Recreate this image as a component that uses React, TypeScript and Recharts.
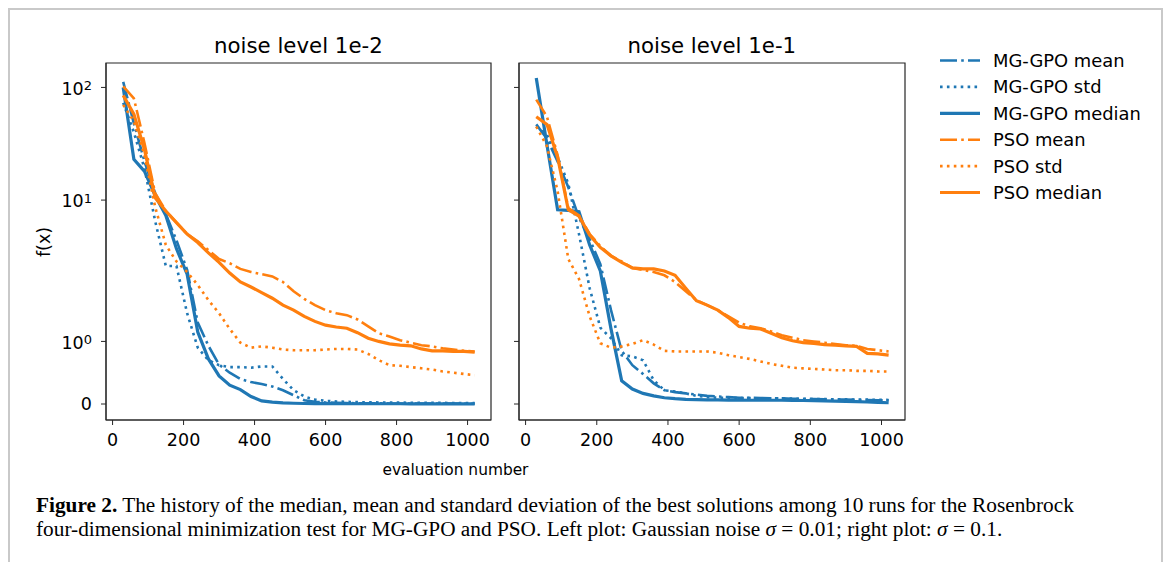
import React from "react"
import { LineChart, Line, XAxis, YAxis, ReferenceArea } from "recharts"

const BLUE = "#1f77b4"
const ORANGE = "#ff7f0e"
const FONT = "'DejaVu Sans', sans-serif"
const AXIS = "#262626"

// evaluation numbers (shared by every series)
const evals = [
  30, 60, 90, 120, 150, 180, 210, 240, 270, 300, 330, 360, 390, 420, 450, 480, 510,
  540, 570, 600, 630, 660, 690, 720, 750, 780, 810, 840, 870, 900, 930, 960, 990, 1020,
]

// noise level 1e-2
const mgMeanA = [112, 48, 22, 11.5, 7.5, 4.4, 2.4, 1.3, 0.93, 0.63, 0.5, 0.4, 0.35, 0.32, 0.28, 0.22, 0.14, 0.06, 0.035, 0.025, 0.02, 0.015, 0.012, 0.01, 0.01, 0.009, 0.008, 0.008, 0.007, 0.007, 0.006, 0.006, 0.005, 0.005]
const mgStdA = [73, 40, 19, 6.5, 2.6, 2.6, 1.45, 0.9, 0.7, 0.62, 0.59, 0.59, 0.58, 0.6, 0.6, 0.4, 0.22, 0.12, 0.07, 0.05, 0.04, 0.035, 0.03, 0.028, 0.025, 0.024, 0.022, 0.02, 0.02, 0.018, 0.018, 0.016, 0.015, 0.015]
const mgMedA = [100, 23, 18, 11, 7.3, 3.7, 2.2, 1.15, 0.72, 0.45, 0.3, 0.23, 0.12, 0.05, 0.03, 0.018, 0.012, 0.008, 0.006, 0.005, 0.005, 0.005, 0.004, 0.004, 0.004, 0.004, 0.004, 0.003, 0.003, 0.003, 0.003, 0.003, 0.003, 0.003]
const psoMeanA = [102, 80, 32, 11.5, 8, 6.3, 5.0, 4.3, 3.6, 3.0, 2.75, 2.45, 2.3, 2.2, 2.1, 1.95, 1.8, 1.68, 1.58, 1.5, 1.45, 1.42, 1.35, 1.24, 1.13, 1.08, 1.02, 0.98, 0.94, 0.92, 0.89, 0.87, 0.85, 0.84]
const psoStdA = [70, 50, 25, 8.7, 4, 2.85, 2.3, 1.9, 1.66, 1.45, 1.2, 0.98, 0.9, 0.92, 0.9, 0.87, 0.86, 0.86, 0.86, 0.87, 0.88, 0.88, 0.87, 0.8, 0.7, 0.62, 0.61, 0.59, 0.57, 0.55, 0.52, 0.5, 0.48, 0.46]
const psoMedA = [85, 58, 28, 10.5, 8, 6.3, 5.0, 4.2, 3.4, 2.8, 2.25, 1.95, 1.87, 1.78, 1.69, 1.58, 1.5, 1.4, 1.32, 1.26, 1.23, 1.21, 1.14, 1.05, 1.0, 0.96, 0.94, 0.93, 0.88, 0.85, 0.85, 0.84, 0.84, 0.83]

// noise level 1e-1
const mgMeanB = [47, 35, 22, 13, 7, 4.5, 2.7, 1.5, 0.85, 0.62, 0.48, 0.33, 0.22, 0.19, 0.17, 0.15, 0.13, 0.12, 0.11, 0.1, 0.1, 0.095, 0.09, 0.09, 0.085, 0.08, 0.08, 0.075, 0.07, 0.07, 0.065, 0.065, 0.06, 0.06]
const mgStdB = [45, 38, 24, 14, 5.0, 1.85, 1.22, 1.05, 0.78, 0.76, 0.7, 0.38, 0.22, 0.2, 0.17, 0.13, 0.11, 0.1, 0.1, 0.095, 0.095, 0.09, 0.09, 0.09, 0.085, 0.085, 0.08, 0.08, 0.075, 0.075, 0.07, 0.07, 0.068, 0.065]
const mgMedB = [121, 31, 8.2, 8.1, 7.9, 4.0, 2.35, 1.2, 0.37, 0.24, 0.17, 0.13, 0.1, 0.085, 0.075, 0.07, 0.065, 0.065, 0.062, 0.062, 0.06, 0.06, 0.06, 0.06, 0.058, 0.056, 0.054, 0.05, 0.046, 0.042, 0.038, 0.032, 0.026, 0.02]
const psoMeanB = [78, 55, 25, 8.5, 7.3, 5.0, 3.9, 3.2, 2.85, 2.5, 2.4, 2.3, 2.15, 1.95, 1.8, 1.66, 1.58, 1.5, 1.4, 1.3, 1.24, 1.21, 1.16, 1.1, 1.06, 1.02, 1.0, 0.98, 0.96, 0.94, 0.93, 0.88, 0.86, 0.84]
const psoStdB = [45, 30, 12, 3.0, 2.0, 1.4, 0.97, 0.9, 0.92, 0.96, 1.02, 0.95, 0.85, 0.84, 0.84, 0.84, 0.84, 0.82, 0.78, 0.75, 0.72, 0.68, 0.64, 0.61, 0.58, 0.57, 0.56, 0.55, 0.54, 0.54, 0.53, 0.53, 0.52, 0.52]
const psoMedB = [55, 47, 24, 8.2, 7.2, 4.9, 3.8, 3.2, 2.8, 2.5, 2.45, 2.45, 2.35, 2.15, 1.85, 1.65, 1.58, 1.5, 1.38, 1.24, 1.21, 1.2, 1.13, 1.06, 1.01, 0.98, 0.97, 0.95, 0.94, 0.93, 0.92, 0.81, 0.8, 0.78]

const titles = ["noise level 1e-2", "noise level 1e-1"]
const legendLabels = ["MG-GPO mean", "MG-GPO std", "MG-GPO median", "PSO mean", "PSO std", "PSO median"]
const xTicks = [0, 200, 400, 600, 800, 1000]
const yTickValues = [0, 1, 10, 100]
const yTickBases = ["0", "10", "10", "10"]
const yTickExps = ["", "0", "1", "2"]

// matplotlib symlog, linthresh = 2, linscale = 1
const LINTHRESH = 2
const LINSCALE = 1 / (1 - 1 / 10)
const symlog = (v: number) => {
  const a = Math.abs(v)
  if (a <= LINTHRESH) return v * LINSCALE
  return Math.sign(v) * LINTHRESH * (LINSCALE + Math.log10(a / LINTHRESH))
}

const X_DOMAIN: [number, number] = [-18.5, 1066]
const Y_DOMAIN: [number, number] = [-0.284, 6.054]
const Y_TICKS = yTickValues.map(symlog)

const DASHDOT = "17 4.2 2.6 4.2"
const DOTTED = "2.6 4.3"

const series = [
  { key: "mgMean", color: BLUE, dash: DASHDOT, width: 2.6 },
  { key: "mgStd", color: BLUE, dash: DOTTED, width: 2.6 },
  { key: "mgMed", color: BLUE, dash: undefined, width: 3.2 },
  { key: "psoMean", color: ORANGE, dash: DASHDOT, width: 2.6 },
  { key: "psoStd", color: ORANGE, dash: DOTTED, width: 2.6 },
  { key: "psoMed", color: ORANGE, dash: undefined, width: 3.2 },
]

const buildRows = (cols: number[][]) =>
  evals.map((e, i) => {
    const row: Record<string, number> = { e }
    series.forEach((s, k) => {
      row[s.key] = symlog(cols[k][i])
    })
    return row
  })

const rowsA = buildRows([mgMeanA, mgStdA, mgMedA, psoMeanA, psoStdA, psoMedA])
const rowsB = buildRows([mgMeanB, mgStdB, mgMedB, psoMeanB, psoStdB, psoMedB])

function YTick(props: any) {
  const { x, y, payload } = props
  let idx = 0
  Y_TICKS.forEach((t, i) => {
    if (Math.abs(t - payload.value) < Math.abs(Y_TICKS[idx] - payload.value)) idx = i
  })
  const exp = yTickExps[idx]
  return (
    <text x={x} y={y + (exp ? 7.2 : 6.3)} textAnchor="end" fill="#000" fontSize={17.5} fontFamily={FONT}>
      {yTickBases[idx]}
      {exp && (
        <tspan dy={-4.2} fontSize={13}>
          {exp}
        </tspan>
      )}
    </text>
  )
}

const NoTick = () => <g />

function Panel({ rows, width, yWidth, labels }: { rows: any[]; width: number; yWidth: number; labels: boolean }) {
  return (
    <LineChart width={width} height={470} data={rows} margin={{ top: 63, right: 9, bottom: 10, left: 0 }}>
      <XAxis
        dataKey="e"
        type="number"
        domain={X_DOMAIN}
        ticks={xTicks}
        interval={0}
        allowDataOverflow
        height={40}
        tickSize={5}
        tickMargin={9}
        stroke={AXIS}
        tick={{ fill: "#000", fontSize: 17.5, fontFamily: FONT }}
      />
      <YAxis
        type="number"
        domain={Y_DOMAIN}
        ticks={Y_TICKS}
        interval={0}
        allowDataOverflow
        width={yWidth}
        tickSize={5}
        tickMargin={9}
        stroke={AXIS}
        tick={labels ? (p: any) => <YTick {...p} /> : NoTick}
      />
      {series.map((s) => (
        <Line
          key={s.key}
          dataKey={s.key}
          type="linear"
          stroke={s.color}
          strokeWidth={s.width}
          strokeDasharray={s.dash}
          dot={false}
          activeDot={false}
          isAnimationActive={false}
        />
      ))}
      <ReferenceArea
        x1={X_DOMAIN[0]}
        x2={X_DOMAIN[1]}
        y1={Y_DOMAIN[0]}
        y2={Y_DOMAIN[1]}
        fill="none"
        fillOpacity={0}
        stroke={AXIS}
        strokeWidth={1.2}
        ifOverflow="visible"
      />
    </LineChart>
  )
}

export default function App() {
  const legendTop = 60.5
  const legendStep = 26.4
  return (
    <div
      style={{
        position: "absolute",
        left: 0,
        top: 0,
        width: 1171,
        height: 562,
        background: "#fff",
        overflow: "hidden",
        fontFamily: FONT,
      }}
    >
      <div
        style={{
          position: "absolute",
          left: 8,
          top: 8,
          width: 1155,
          height: 620,
          boxSizing: "border-box",
          borderTop: "2px solid #c9c9c9",
          borderLeft: "2px solid #c9c9c9",
          borderRight: "2px solid #c9c9c9",
        }}
      />
      <div style={{ position: "absolute", left: 0, top: 0 }}>
        <Panel rows={rowsA} width={500} yWidth={106} labels />
      </div>
      <div style={{ position: "absolute", left: 500, top: 0 }}>
        <Panel rows={rowsB} width={414} yWidth={19} labels={false} />
      </div>
      <svg width={1171} height={562} style={{ position: "absolute", left: 0, top: 0, pointerEvents: "none" }}>
        <text x={298.4} y={52.5} textAnchor="middle" fontSize={21.3} fontFamily={FONT} fill="#000">
          {titles[0]}
        </text>
        <text x={711.8} y={52.5} textAnchor="middle" fontSize={21.3} fontFamily={FONT} fill="#000">
          {titles[1]}
        </text>
        <text x={455.5} y={474.5} textAnchor="middle" fontSize={15.4} fontFamily={FONT} fill="#000">
          evaluation number
        </text>
        <text
          x={49.5}
          y={242}
          textAnchor="middle"
          fontSize={17.5}
          fontFamily={FONT}
          fill="#000"
          transform="rotate(-90 49.5 242)"
        >
          f(x)
        </text>
        {series.map((s, i) => {
          const cy = legendTop + i * legendStep
          return (
            <g key={s.key}>
              <line x1={940} x2={980} y1={cy} y2={cy} stroke={s.color} strokeWidth={s.width} strokeDasharray={s.dash} />
              <text x={993} y={cy + 6.5} fontSize={17.9} fontFamily={FONT} fill="#000">
                {legendLabels[i]}
              </text>
            </g>
          )
        })}
      </svg>
      <div
        style={{
          position: "absolute",
          left: 36,
          top: 493,
          width: 1120,
          fontFamily: "'Liberation Serif', serif",
          fontSize: 21.3,
          lineHeight: "24px",
          color: "#000",
          whiteSpace: "nowrap",
        }}
      >
        <b>Figure 2.</b> The history of the median, mean and standard deviation of the best solutions among 10 runs for the Rosenbrock
        <br />
        four-dimensional minimization test for MG-GPO and PSO. Left plot: Gaussian noise <i>σ</i> = 0.01; right plot: <i>σ</i> = 0.1.
      </div>
    </div>
  )
}
